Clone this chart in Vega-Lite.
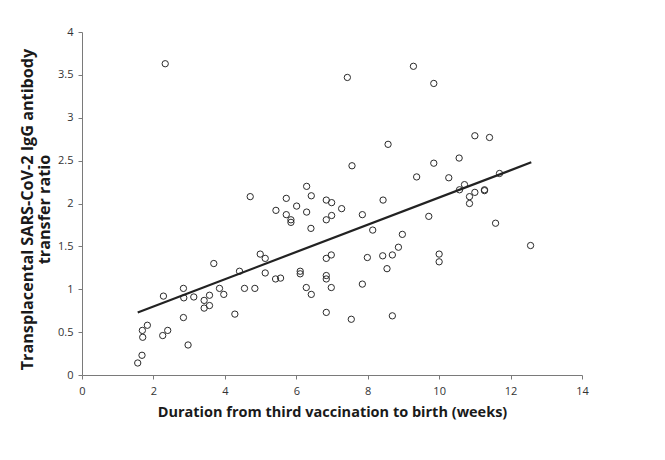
{
  "$schema": "https://vega.github.io/schema/vega-lite/v6.json",
  "width": 500,
  "height": 343,
  "autosize": {"type": "none"},
  "padding": {"left": 82, "top": 32, "right": 83, "bottom": 85},
  "background": "white",
  "config": {
    "view": {"stroke": null},
    "axis": {
      "grid": false,
      "domainColor": "#7a7a7a",
      "tickColor": "#7a7a7a",
      "tickSize": 4,
      "labelFont": "Open Sans",
      "labelFontSize": 11,
      "labelColor": "#333",
      "titleFont": "Open Sans",
      "titleFontWeight": "bold",
      "titleFontSize": 14.5,
      "titleColor": "#1a1a1a"
    }
  },
  "datasets": {
    "points": [
      {"weeks": 1.56, "ratio": 0.14}, {"weeks": 1.68, "ratio": 0.23}, {"weeks": 1.69, "ratio": 0.52},
      {"weeks": 1.70, "ratio": 0.44}, {"weeks": 1.83, "ratio": 0.58}, {"weeks": 2.26, "ratio": 0.46},
      {"weeks": 2.40, "ratio": 0.52}, {"weeks": 2.28, "ratio": 0.92}, {"weeks": 2.33, "ratio": 3.63},
      {"weeks": 2.84, "ratio": 1.01}, {"weeks": 2.85, "ratio": 0.90}, {"weeks": 2.84, "ratio": 0.67},
      {"weeks": 2.97, "ratio": 0.35}, {"weeks": 3.13, "ratio": 0.91}, {"weeks": 3.42, "ratio": 0.87},
      {"weeks": 3.42, "ratio": 0.78}, {"weeks": 3.57, "ratio": 0.93}, {"weeks": 3.57, "ratio": 0.81},
      {"weeks": 3.69, "ratio": 1.30}, {"weeks": 3.85, "ratio": 1.01}, {"weeks": 3.97, "ratio": 0.94},
      {"weeks": 4.28, "ratio": 0.71}, {"weeks": 4.41, "ratio": 1.21}, {"weeks": 4.55, "ratio": 1.01},
      {"weeks": 4.71, "ratio": 2.08}, {"weeks": 4.84, "ratio": 1.01}, {"weeks": 4.99, "ratio": 1.41},
      {"weeks": 5.13, "ratio": 1.36}, {"weeks": 5.13, "ratio": 1.19}, {"weeks": 5.42, "ratio": 1.12},
      {"weeks": 5.56, "ratio": 1.13}, {"weeks": 5.43, "ratio": 1.92}, {"weeks": 5.72, "ratio": 2.06},
      {"weeks": 5.72, "ratio": 1.87}, {"weeks": 5.85, "ratio": 1.81}, {"weeks": 5.85, "ratio": 1.78},
      {"weeks": 6.01, "ratio": 1.97}, {"weeks": 6.29, "ratio": 2.20}, {"weeks": 6.42, "ratio": 2.09},
      {"weeks": 6.29, "ratio": 1.90}, {"weeks": 6.41, "ratio": 1.71}, {"weeks": 6.11, "ratio": 1.21},
      {"weeks": 6.11, "ratio": 1.18}, {"weeks": 6.28, "ratio": 1.02}, {"weeks": 6.42, "ratio": 0.94},
      {"weeks": 6.84, "ratio": 2.04}, {"weeks": 6.99, "ratio": 2.01}, {"weeks": 6.84, "ratio": 1.81},
      {"weeks": 6.99, "ratio": 1.86}, {"weeks": 7.27, "ratio": 1.94}, {"weeks": 6.84, "ratio": 1.16},
      {"weeks": 6.84, "ratio": 1.12}, {"weeks": 6.98, "ratio": 1.02}, {"weeks": 6.84, "ratio": 0.73},
      {"weeks": 6.98, "ratio": 1.40}, {"weeks": 6.84, "ratio": 1.36}, {"weeks": 7.43, "ratio": 3.47},
      {"weeks": 7.56, "ratio": 2.44}, {"weeks": 7.54, "ratio": 0.65}, {"weeks": 7.85, "ratio": 1.87},
      {"weeks": 7.85, "ratio": 1.06}, {"weeks": 7.99, "ratio": 1.37}, {"weeks": 8.14, "ratio": 1.69},
      {"weeks": 8.43, "ratio": 2.04}, {"weeks": 8.42, "ratio": 1.39}, {"weeks": 8.54, "ratio": 1.24},
      {"weeks": 8.57, "ratio": 2.69}, {"weeks": 8.69, "ratio": 1.40}, {"weeks": 8.69, "ratio": 0.69},
      {"weeks": 8.86, "ratio": 1.49}, {"weeks": 8.97, "ratio": 1.64}, {"weeks": 9.28, "ratio": 3.60},
      {"weeks": 9.37, "ratio": 2.31}, {"weeks": 9.71, "ratio": 1.85}, {"weeks": 9.85, "ratio": 3.40},
      {"weeks": 9.85, "ratio": 2.47}, {"weeks": 10.0, "ratio": 1.41}, {"weeks": 10.0, "ratio": 1.32},
      {"weeks": 10.27, "ratio": 2.30}, {"weeks": 10.56, "ratio": 2.53}, {"weeks": 10.57, "ratio": 2.16},
      {"weeks": 10.71, "ratio": 2.22}, {"weeks": 10.85, "ratio": 2.08}, {"weeks": 10.85, "ratio": 2.00},
      {"weeks": 11.0, "ratio": 2.13}, {"weeks": 11.0, "ratio": 2.79}, {"weeks": 11.27, "ratio": 2.16},
      {"weeks": 11.27, "ratio": 2.15}, {"weeks": 11.41, "ratio": 2.77}, {"weeks": 11.58, "ratio": 1.77},
      {"weeks": 11.69, "ratio": 2.35}, {"weeks": 12.56, "ratio": 1.51}
    ],
    "fit": [
      {"weeks": 1.56, "ratio": 0.73},
      {"weeks": 12.58, "ratio": 2.48}
    ]
  },
  "layer": [
    {
      "data": {"name": "points"},
      "mark": {"type": "point", "shape": "circle", "filled": false, "size": 40, "stroke": "#2a2a2a", "strokeWidth": 1, "opacity": 1},
      "encoding": {
        "x": {
          "field": "weeks", "type": "quantitative",
          "scale": {"domain": [0, 14], "nice": false, "zero": false},
          "axis": {
            "values": [0, 2, 4, 6, 8, 10, 12, 14],
            "format": "~g",
            "title": "Duration from third vaccination to birth (weeks)",
            "labelPadding": 6,
            "titleBaseline": "top",
            "titleY": 30,
            "labelFlush": false
          }
        },
        "y": {
          "field": "ratio", "type": "quantitative",
          "scale": {"domain": [0, 4], "nice": false, "zero": false},
          "axis": {
            "values": [0, 0.5, 1, 1.5, 2, 2.5, 3, 3.5, 4],
            "format": "~g",
            "title": ["Transplacental SARS-CoV-2 IgG antibody", "transfer ratio"],
            "titleFontSize": 16.2,
            "labelPadding": 5,
            "titleLineHeight": 17.5,
            "titleAngle": -90,
            "titleAlign": "center",
            "titleBaseline": "bottom",
            "titleX": -47,
            "titleY": 177,
            "labelFlush": false
          }
        }
      }
    },
    {
      "data": {"name": "fit"},
      "mark": {"type": "line", "color": "#222", "strokeWidth": 2.2},
      "encoding": {
        "x": {"field": "weeks", "type": "quantitative"},
        "y": {"field": "ratio", "type": "quantitative"}
      }
    }
  ]
}
